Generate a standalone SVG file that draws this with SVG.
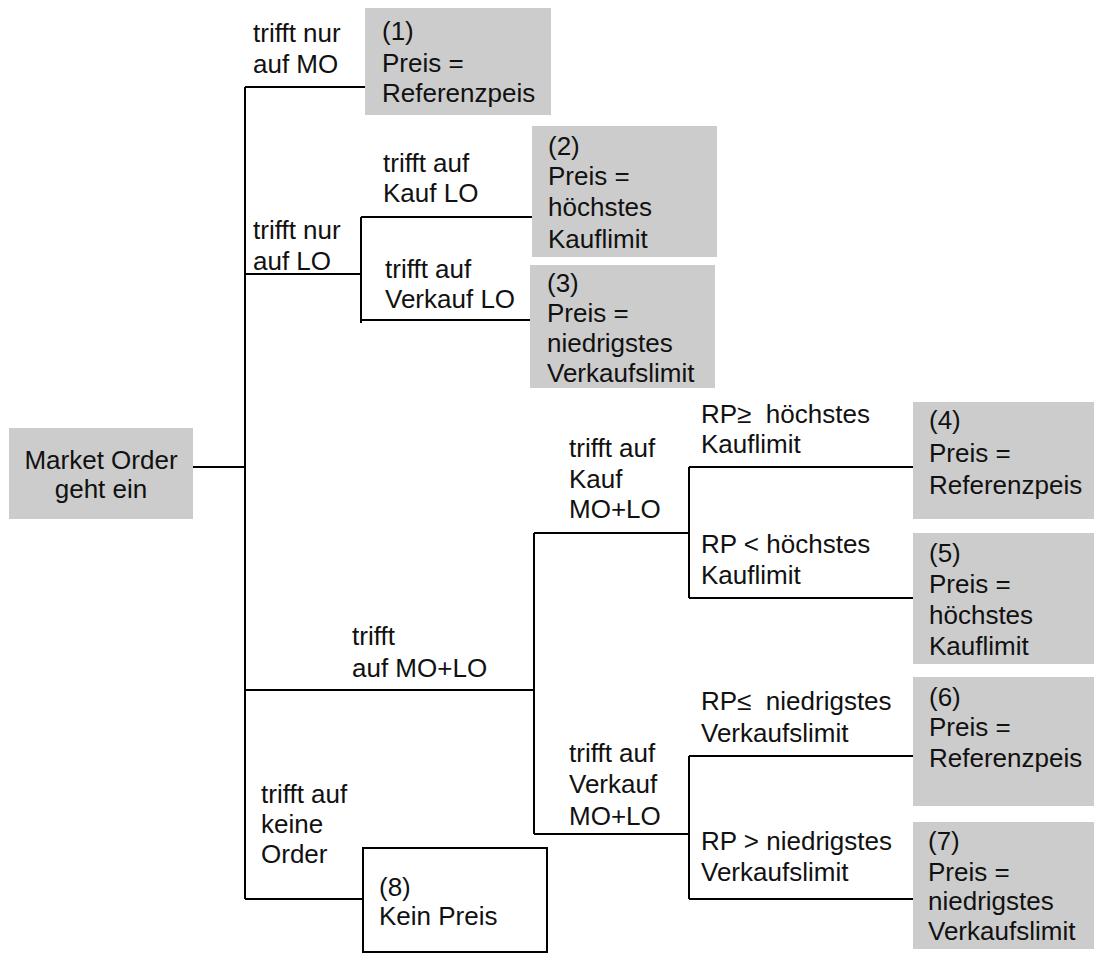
<svg xmlns="http://www.w3.org/2000/svg" width="1096" height="955" viewBox="0 0 1096 955">
<style>
text{font-family:"Liberation Sans",Arial,sans-serif;font-size:26px;fill:#111}
.box{fill:#cccccc;stroke:none}
.wbox{fill:#fff;stroke:#000;stroke-width:2}
.ln{fill:none;stroke:#000;stroke-width:2}
.c{text-anchor:middle}
.rp{font-weight:500}
</style>
<rect width="1096" height="955" fill="#fff"/>
<g id="connectors">
<path class="ln" d="M193,467H245M245,87V899M245,87H365M245,274H361M361,217V323M361,217H532M361,320H530M245,690H534M534,533V834M534,533H689M534,834H689M689,467V598M689,467H913M689,598H913M689,756V899M689,756H913M689,899H913M245,899H363"/>
</g>
<g id="root">
<rect class="box" x="9" y="428" width="184" height="91"/>
<text class="c" x="101" y="469">Market Order</text>
<text class="c" x="101" y="498">geht ein</text>
</g>
<g id="n1">
<rect class="box" x="365" y="8" width="186" height="107"/>
<text x="382" y="40">(1)</text>
<text x="382" y="72">Preis =</text>
<text x="382" y="102">Referenzpeis</text>
</g>
<g id="n2">
<rect class="box" x="532" y="126" width="185" height="131"/>
<text x="548" y="155">(2)</text>
<text x="548" y="185">Preis =</text>
<text x="548" y="216">höchstes</text>
<text x="548" y="248">Kauflimit</text>
</g>
<g id="n3">
<rect class="box" x="530" y="265" width="185" height="123"/>
<text x="547" y="292">(3)</text>
<text x="547" y="322">Preis =</text>
<text x="547" y="352">niedrigstes</text>
<text x="547" y="382">Verkaufslimit</text>
</g>
<g id="n4">
<rect class="box" x="913" y="402" width="181" height="117"/>
<text x="929" y="429">(4)</text>
<text x="929" y="462">Preis =</text>
<text x="929" y="494">Referenzpeis</text>
</g>
<g id="n5">
<rect class="box" x="913" y="533" width="181" height="131"/>
<text x="929" y="562">(5)</text>
<text x="929" y="593">Preis =</text>
<text x="929" y="624">höchstes</text>
<text x="929" y="655">Kauflimit</text>
</g>
<g id="n6">
<rect class="box" x="913" y="677" width="181" height="129"/>
<text x="929" y="706">(6)</text>
<text x="929" y="736">Preis =</text>
<text x="929" y="767">Referenzpeis</text>
</g>
<g id="n7">
<rect class="box" x="913" y="822" width="181" height="127"/>
<text x="928" y="850">(7)</text>
<text x="928" y="881">Preis =</text>
<text x="928" y="910">niedrigstes</text>
<text x="928" y="940">Verkaufslimit</text>
</g>
<g id="n8">
<rect class="wbox" x="363" y="848" width="184" height="104"/>
<text x="379" y="896">(8)</text>
<text x="379" y="925">Kein Preis</text>
</g>
<g id="labels">
<text x="253" y="42">trifft nur</text>
<text x="253" y="73">auf MO</text>
<text x="253" y="239">trifft nur</text>
<text x="253" y="270">auf LO</text>
<text x="383" y="172">trifft auf</text>
<text x="383" y="202">Kauf LO</text>
<text x="385" y="278">trifft auf</text>
<text x="385" y="308">Verkauf LO</text>
<text x="352" y="645">trifft</text>
<text x="352" y="677">auf MO+LO</text>
<text x="261" y="803">trifft auf</text>
<text x="261" y="833">keine</text>
<text x="261" y="863">Order</text>
<text x="569" y="457">trifft auf</text>
<text x="569" y="488">Kauf</text>
<text x="569" y="518">MO+LO</text>
<text x="569" y="762">trifft auf</text>
<text x="569" y="793">Verkauf</text>
<text x="569" y="825">MO+LO</text>
<text class="rp" x="701" y="423" xml:space="preserve">RP≥  höchstes</text>
<text class="rp" x="701" y="453">Kauflimit</text>
<text x="701" y="553">RP &lt; höchstes</text>
<text x="701" y="584">Kauflimit</text>
<text class="rp" x="701" y="710" xml:space="preserve">RP≤  niedrigstes</text>
<text class="rp" x="701" y="742">Verkaufslimit</text>
<text x="701" y="850">RP &gt; niedrigstes</text>
<text x="701" y="881">Verkaufslimit</text>
</g>
</svg>
